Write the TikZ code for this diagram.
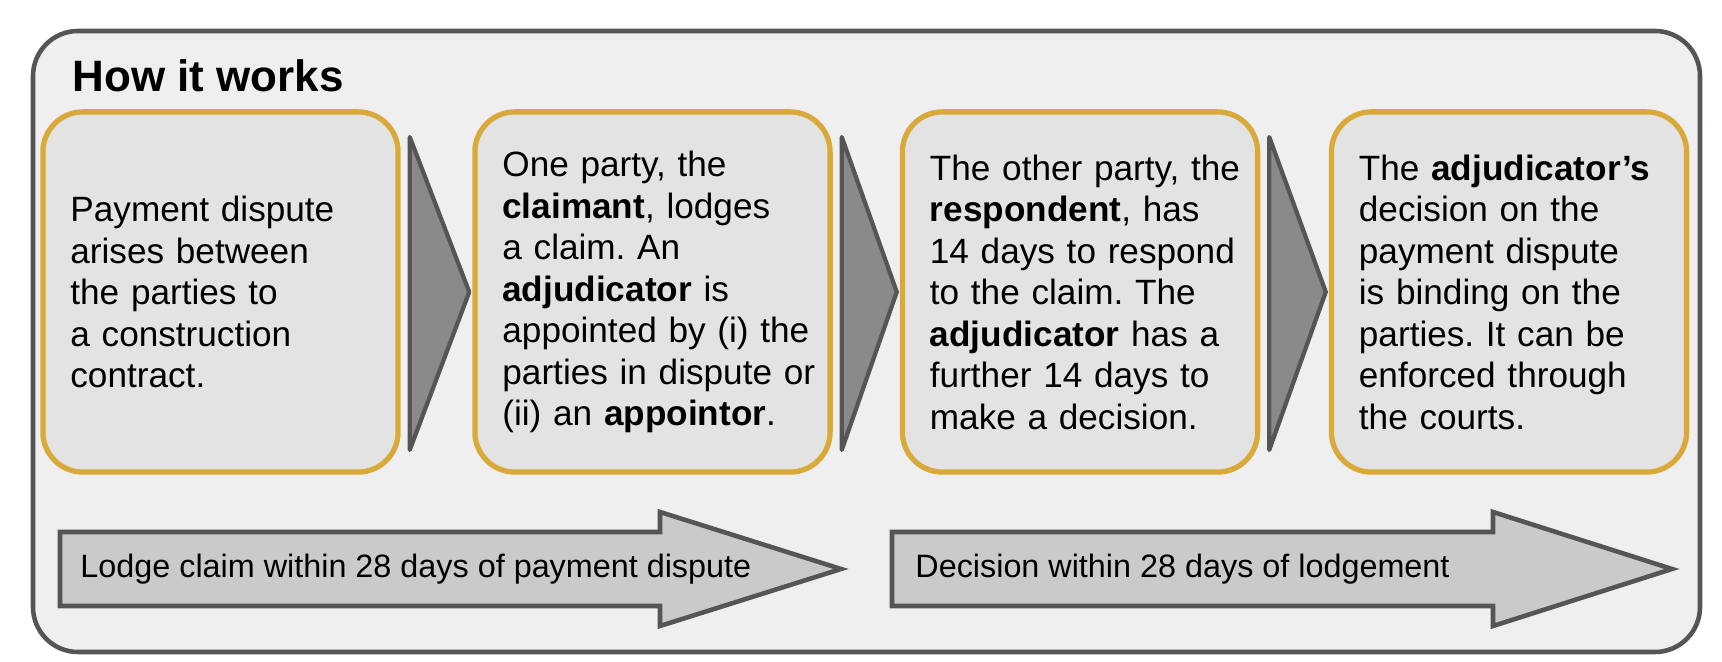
\documentclass[tikz,border=0pt]{standalone}
\usepackage{fontspec}
\setmainfont{Liberation Sans}
\frenchspacing
\definecolor{framefill}{HTML}{EFEFEF}
\definecolor{framedraw}{HTML}{555555}
\definecolor{boxfill}{HTML}{E3E3E3}
\definecolor{boxgold}{HTML}{D9A93A}
\definecolor{tipfill}{HTML}{8A8A8A}
\definecolor{arrowfill}{HTML}{CACACA}
\tikzset{
	stepbox/.style={draw=boxgold, line width=1.5pt, fill=boxfill, rounded corners=0.4cm,
		minimum width=3.55cm, minimum height=3.6cm, inner xsep=0.1cm, text width=3.3cm,
		align=left, font=\fontsize{10}{11.8}\selectfont},
	steptip/.style={draw=framedraw, line width=1.2pt, fill=tipfill, line join=round},
	timearrow/.style={draw=framedraw, line width=1.3pt, fill=arrowfill},
	timelabel/.style={anchor=west, font=\fontsize{9.2}{11}\selectfont}
}

\begin{document}
\begin{tikzpicture}[x=0.01cm,y=-0.01cm]
	\useasboundingbox (0,0) rectangle (1722,662);
	\draw[framedraw, fill=framefill, line width=1.3pt, rounded corners=0.45cm] (33,31) rectangle (1700,652);
	\node[anchor=base west, font=\bfseries\fontsize{12.5}{14}\selectfont, inner sep=0] (title) at (72,92) {How it works};

	% steps
	\node[stepbox] (s1) at (220.5,292) {\hspace*{0.15cm}Payment dispute\\ \hspace*{0.15cm}arises between\\ \hspace*{0.15cm}the parties to\\ \hspace*{0.15cm}a construction\\ \hspace*{0.15cm}contract.};
	\node[stepbox] (s2) at (652.5,292) {\hspace*{0.15cm}One party, the\\ \hspace*{0.15cm}\textbf{claimant}, lodges\\ \hspace*{0.15cm}a claim. An\\ \hspace*{0.15cm}\textbf{adjudicator} is\\ \hspace*{0.15cm}appointed by (i) the\\ \hspace*{0.15cm}parties in dispute or\\ \hspace*{0.15cm}(ii) an \textbf{appointor}.};
	\node[stepbox] (s3) at (1080,292) {\hspace*{0.15cm}The other party, the\\ \hspace*{0.15cm}\textbf{respondent}, has\\ \hspace*{0.15cm}14 days to respond\\ \hspace*{0.15cm}to the claim. The\\ \hspace*{0.15cm}\textbf{adjudicator} has a\\ \hspace*{0.15cm}further 14 days to\\ \hspace*{0.15cm}make a decision.};
	\node[stepbox] (s4) at (1509,292) {\hspace*{0.15cm}The \textbf{adjudicator's}\\ \hspace*{0.15cm}decision on the\\ \hspace*{0.15cm}payment dispute\\ \hspace*{0.15cm}is binding on the\\ \hspace*{0.15cm}parties. It can be\\ \hspace*{0.15cm}enforced through\\ \hspace*{0.15cm}the courts.};

	% chevrons between steps
	\foreach \a/\b in {s1/s2,s2/s3,s3/s4}{
		\coordinate (t1) at ([xshift=0.09cm]\a.east |- 0,137);
		\coordinate (t2) at ([xshift=0.09cm]\a.east |- 0,450);
		\coordinate (t3) at ([xshift=-0.03cm]\b.west);
		\draw[steptip] (t1) -- (t3) -- (t2) -- cycle;
	}

	% time arrows
	\draw[timearrow] (60,532) -- (660,532) -- (660,512) -- (841,569) -- (660,626) -- (660,606) -- (60,606) -- cycle;
	\node[timelabel] (lodge) at (68,569) {Lodge claim within 28 days of payment dispute};
	\draw[timearrow] (892,532) -- (1493,532) -- (1493,512) -- (1672,569) -- (1493,626) -- (1493,606) -- (892,606) -- cycle;
	\node[timelabel] (decide) at (903,569) {Decision within 28 days of lodgement};
\end{tikzpicture}
\end{document}
